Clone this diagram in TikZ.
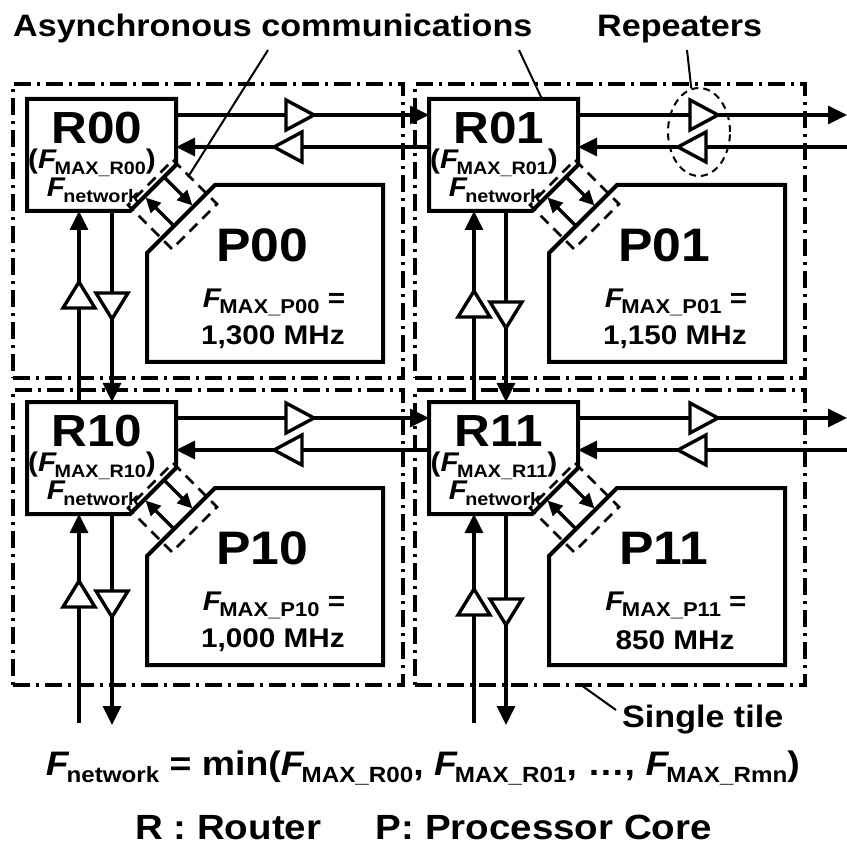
\documentclass[tikz,border=0pt]{standalone}
\usepackage{fontspec}
\setmainfont{Liberation Sans}[FakeStretch=1.1]
\usetikzlibrary{arrows.meta,shapes.geometric,calc}

\newcommand\fs[1]{\fontsize{#1}{#1}\selectfont}
\newcommand\Fs[2]{{\itshape F}\kern-.06em\raisebox{-.22em}{\fs{#1}#2}}

\newcommand\mytile[4]{%
\begin{scope}[shift={(#1,#2)}]
\draw[iface] (146,61) -- (190,105) -- (145,150) -- (101,106) -- cycle;
\node[hidebox, minimum width=149pt, minimum height=112pt] (R#3) at (74.5,56) {};
\draw[outline] (0,0) -- (149,0) -- (149,66) -- (103,112) -- (0,112) -- cycle;
\node[hidebox, minimum width=236pt, minimum height=177pt] (P#3) at (238,174.5) {};
\draw[outline] (188,86) -- (356,86) -- (356,263) -- (120,263) -- (120,154) -- cycle;
\coordinate (A#3s) at (138,79); \coordinate (A#3e) at (165.5,106.5);
\coordinate (B#3s) at (146,126); \coordinate (B#3e) at (118.5,98.5);
\draw[async] (A#3s) -- (A#3e);
\draw[async] (B#3s) -- (B#3e);
\node[rlab] (RT#3) at (70,29) {R#3};
\node[rsub] (RF#3) at (65,64) {(\Fs{18}{MAX\_R#3})};
\node[rsub] (RN#3) at (66,91) {\Fs{18}{network}};
\node[plab] (PT#3) at (235,146) {P#3};
\node[psub] (PF#3) at (247,203) {\Fs{20}{MAX\_P#3} =};
\node[psub] (PM#3) at (246,238) {#4};
\end{scope}}

\begin{document}
\begin{tikzpicture}[x=1pt,y=-1pt,font=\bfseries,
  tilebox/.style={draw, line width=3.2pt, dash pattern=on 17pt off 6pt on 3pt off 6pt, inner sep=0pt, outer sep=0pt},
  hidebox/.style={inner sep=0pt, outer sep=0pt},
  outline/.style={line width=4pt, line join=miter},
  iface/.style={line width=2.6pt, dash pattern=on 11pt off 7pt},
  async/.style={line width=3.4pt, -{Triangle[length=15pt,width=14pt]}},
  link/.style={line width=3.4pt, -{Triangle[length=19pt,width=18pt]}},
  leader/.style={line width=2pt},
  rep/.style={draw, fill=white, line width=3.4pt, line join=miter},
  rlab/.style={font=\bfseries\fs{45}, inner sep=0pt},
  rsub/.style={font=\bfseries\fs{27}, inner sep=0pt},
  plab/.style={font=\bfseries\fs{47}, inner sep=0pt},
  psub/.style={font=\bfseries\fs{27}, inner sep=0pt},
  txt/.style={inner sep=0pt},
  repE/.pic={\path[rep] (-14,-15) -- (14,0) -- (-14,15) -- cycle;},
  repW/.pic={\path[rep] (14,-15) -- (-14,0) -- (14,15) -- cycle;},
  repN/.pic={\path[rep] (-16,13) -- (0,-13) -- (16,13) -- cycle;},
  repS/.pic={\path[rep] (-16,-13) -- (0,13) -- (16,-13) -- cycle;}
]
\useasboundingbox (0,0) rectangle (847,845);
\fill[white] (0,0) rectangle (847,845);

% tiles
\node[tilebox, minimum width=390pt, minimum height=294pt] (T00) at (208,231) {};
\node[tilebox, minimum width=390pt, minimum height=294pt] (T01) at (610,231) {};
\node[tilebox, minimum width=390pt, minimum height=295pt] (T10) at (208,537.5) {};
\node[tilebox, minimum width=390pt, minimum height=295pt] (T11) at (610,537.5) {};

\mytile{27}{99}{00}{1,300 MHz}
\mytile{429}{99}{01}{1,150 MHz}
\mytile{27}{402}{10}{1,000 MHz}
\mytile{429}{402}{11}{850 MHz}

% free ends
\coordinate (o01a) at (847,115); \coordinate (o01b) at (847,147);
\coordinate (o11a) at (847,418); \coordinate (o11b) at (847,450);
\coordinate (u10) at (79,723);  \coordinate (d10) at (112,725);
\coordinate (u11) at (474,723); \coordinate (d11) at (506,725);

% horizontal links
\draw[link] ([yshift=40pt]R00.east) -- ([yshift=40pt]R01.west);
\draw[link] ([yshift=8pt]R01.west) -- ([yshift=8pt]R00.east);
\draw[link] ([yshift=40pt]R01.east) -- (o01a);
\draw[link] (o01b) -- ([yshift=8pt]R01.east);
\draw[link] ([yshift=40pt]R10.east) -- ([yshift=40pt]R11.west);
\draw[link] ([yshift=8pt]R11.west) -- ([yshift=8pt]R10.east);
\draw[link] ([yshift=40pt]R11.east) -- (o11a);
\draw[link] (o11b) -- ([yshift=8pt]R11.east);

% vertical links
\draw[link] ([xshift=10.5pt]R00.south) -- ([xshift=10.5pt]R10.north);
\draw[link] ([xshift=-22.5pt]R10.north) -- ([xshift=-22.5pt]R00.south);
\draw[link] ([xshift=10.5pt]R10.south) -- (d10);
\draw[link] (u10) -- ([xshift=-22.5pt]R10.south);
\draw[link] ([xshift=2.5pt]R01.south) -- ([xshift=2.5pt]R11.north);
\draw[link] ([xshift=-29.5pt]R11.north) -- ([xshift=-29.5pt]R01.south);
\draw[link] ([xshift=2.5pt]R11.south) -- (d11);
\draw[link] (u11) -- ([xshift=-29.5pt]R11.south);

% repeaters
\pic at (300,115) {repE}; \pic at (288,147) {repW};
\pic at (704,115) {repE}; \pic at (692,147) {repW};
\pic at (300,418) {repE}; \pic at (288,450) {repW};
\pic at (704,418) {repE}; \pic at (692,450) {repW};
\pic at (79,295) {repN};  \pic at (112,306) {repS};
\pic at (474,304) {repN}; \pic at (506,315) {repS};
\pic at (79,594) {repN};  \pic at (112,604) {repS};
\pic at (474,602) {repN}; \pic at (506,612) {repS};

\node[ellipse, draw, line width=2pt, dash pattern=on 7pt off 5pt, minimum width=62pt, minimum height=88pt, inner sep=0pt] (repEll) at (699,132) {};

% header labels
\node[txt, font=\bfseries\fs{31}, anchor=base west] (hdrA) at (13,37) {Asynchronous communications};
\node[txt, font=\bfseries\fs{31}, anchor=base west] (hdrR) at (597,37) {Repeaters};
\coordinate (hA1) at (268,50); \coordinate (hA2) at (519,50);
\coordinate (tA1) at (188,177); \coordinate (hR) at (687,50);
\draw[leader] (hA1) -- (tA1);
\draw[leader] (hA2) -- ([xshift=38.5pt]R01.north);
\draw[leader] (hR) -- (repEll.100);

% single tile
\coordinate (st) at (616,710);
\draw[leader] ([xshift=-29pt]T11.south) -- (st);
\node[txt, font=\bfseries\fs{31}, anchor=base west] (stl) at (622,727) {Single tile};

% formula and legend
\node[txt, font=\bfseries\fs{34}, anchor=base east] (formula) at (800,775)
  {\Fs{22}{network} = min(\Fs{22}{MAX\_R00}, \Fs{22}{MAX\_R01}, …, \Fs{22}{MAX\_Rmn})};
\node[txt, font=\bfseries\fs{35}, anchor=base west] (legR) at (135,839) {R : Router};
\node[txt, font=\bfseries\fs{35}, anchor=base east] (legP) at (712,839) {P: Processor Core};
\end{tikzpicture}
\end{document}
